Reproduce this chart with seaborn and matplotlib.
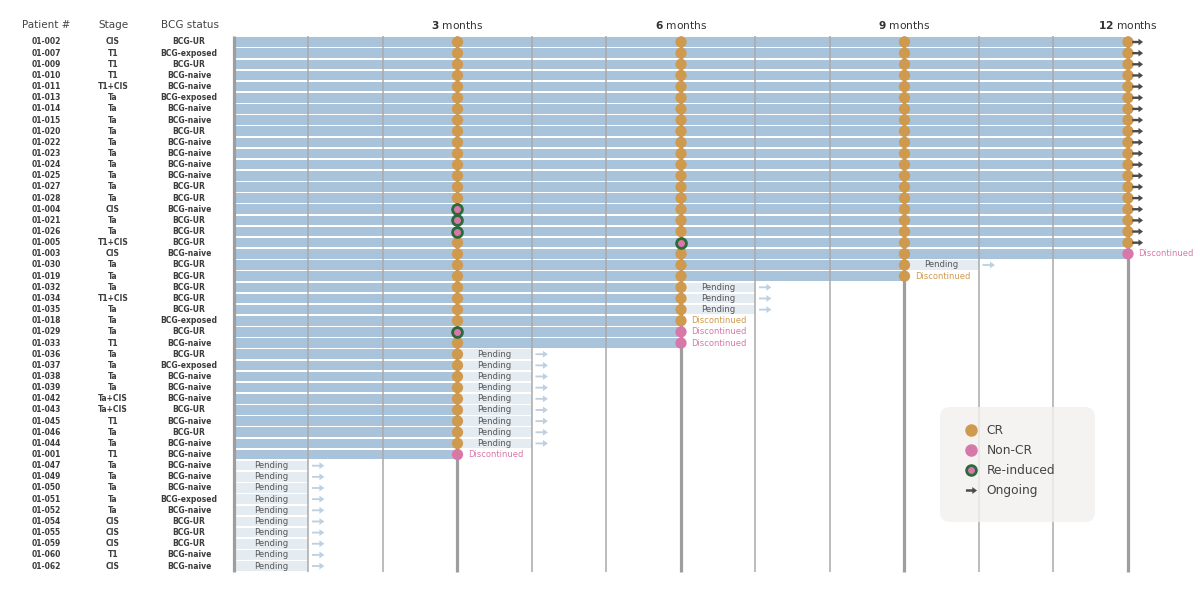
import numpy as np
import pandas as pd
import matplotlib
matplotlib.use("Agg")
import matplotlib.pyplot as plt
from matplotlib.lines import Line2D
from matplotlib.patches import FancyBboxPatch
from matplotlib.path import Path
import seaborn as sns

sns.set_theme(style="white")
plt.rcParams["font.family"] = ["DejaVu Sans"]

# ---- data -------------------------------------------------------------
patients = ["01-002", "01-007", "01-009", "01-010", "01-011", "01-013", "01-014", "01-015",
            "01-020", "01-022", "01-023", "01-024", "01-025", "01-027", "01-028", "01-004",
            "01-021", "01-026", "01-005", "01-003", "01-030", "01-019", "01-032", "01-034",
            "01-035", "01-018", "01-029", "01-033", "01-036", "01-037", "01-038", "01-039",
            "01-042", "01-043", "01-045", "01-046", "01-044", "01-001", "01-047", "01-049",
            "01-050", "01-051", "01-052", "01-054", "01-055", "01-059", "01-060", "01-062"]
stages = ["CIS", "T1", "T1", "T1", "T1+CIS", "Ta", "Ta", "Ta",
          "Ta", "Ta", "Ta", "Ta", "Ta", "Ta", "Ta", "CIS",
          "Ta", "Ta", "T1+CIS", "CIS", "Ta", "Ta", "Ta", "T1+CIS",
          "Ta", "Ta", "Ta", "T1", "Ta", "Ta", "Ta", "Ta",
          "Ta+CIS", "Ta+CIS", "T1", "Ta", "Ta", "T1", "Ta", "Ta",
          "Ta", "Ta", "Ta", "CIS", "CIS", "CIS", "T1", "CIS"]
bcg_status = ["BCG-UR", "BCG-exposed", "BCG-UR", "BCG-naive", "BCG-naive", "BCG-exposed", "BCG-naive", "BCG-naive",
              "BCG-UR", "BCG-naive", "BCG-naive", "BCG-naive", "BCG-naive", "BCG-UR", "BCG-UR", "BCG-naive",
              "BCG-UR", "BCG-UR", "BCG-UR", "BCG-naive", "BCG-UR", "BCG-UR", "BCG-UR", "BCG-UR",
              "BCG-UR", "BCG-exposed", "BCG-UR", "BCG-naive", "BCG-UR", "BCG-exposed", "BCG-naive", "BCG-naive",
              "BCG-naive", "BCG-UR", "BCG-naive", "BCG-UR", "BCG-naive", "BCG-naive", "BCG-naive", "BCG-naive",
              "BCG-naive", "BCG-exposed", "BCG-naive", "BCG-UR", "BCG-UR", "BCG-UR", "BCG-naive", "BCG-naive"]

# response per assessment, one character per patient:
# C = CR, N = Non-CR, R = re-induced, - = not assessed
resp_3m = ("CCCCCCCCCCCCCCC"   # 01-002 .. 01-028
           "RRR"               # 01-004, 01-021, 01-026
           "CCCCCCCC"          # 01-005 .. 01-018
           "R"                 # 01-029
           "C"                 # 01-033
           "CCCCCCCCC"         # 01-036 .. 01-044
           "N"                 # 01-001
           "----------")       # 01-047 .. 01-062
resp_6m = ("CCCCCCCCCCCCCCCCCC"  # 01-002 .. 01-026
           "R"                   # 01-005
           "CCCCCCC"             # 01-003 .. 01-018
           "NN"                  # 01-029, 01-033
           "--------------------")
resp_9m = ("CCCCCCCCCCCCCCCCCCCCCC"  # 01-002 .. 01-019
           "--------------------------")
resp_12m = ("CCCCCCCCCCCCCCCCCCC"  # 01-002 .. 01-005
            "N"                    # 01-003
            "----------------------------")
# what follows the last assessment: O = ongoing, P = pending, D = discontinued
follow_up = ("OOOOOOOOOOOOOOOOOOO"
             "D" "P" "D" "PPP" "DDD"
             "PPPPPPPPP" "D"
             "PPPPPPPPPP")

assess_months = [3, 6, 9, 12]
month_labels = ["3", "6", "9", "12"]

# ---- style ------------------------------------------------------------
BAR_BLUE = "#a9c3da"
PEND_BG = "#e5ecf1"
PEND_ARROW = "#bdd1e3"
CR_COL = "#d09a4e"
NCR_COL = "#d878a9"
RI_RING = "#2b6a3b"
ARROW_COL = "#4a4a4a"
TXT = "#3c3c3c"

ARROW = Path([(-1, -0.22), (0.15, -0.22), (0.15, -0.62), (1, 0), (0.15, 0.62),
              (0.15, 0.22), (-1, 0.22), (-1, -0.22)], closed=True)
THIN_ARROW = Path([(-1, -0.15), (0.2, -0.15), (0.2, -0.55), (1, 0), (0.2, 0.55),
                   (0.2, 0.15), (-1, 0.15), (-1, -0.15)], closed=True)

n = len(patients)
for s in (stages, bcg_status, resp_3m, resp_6m, resp_9m, resp_12m, follow_up):
    assert len(s) == n
rows = np.arange(n)

events = []
for month, resp in zip(assess_months, [resp_3m, resp_6m, resp_9m, resp_12m]):
    for r, code in enumerate(resp):
        if code != "-":
            events.append({"row": r, "month": month, "code": code})
events = pd.DataFrame(events)
last = events.groupby("row")["month"].max().reindex(rows, fill_value=0)
last_code = events.sort_values("month").groupby("row")["code"].last()

df = pd.DataFrame({"row": rows, "end": last.values, "follow": list(follow_up)})

# ---- figure -----------------------------------------------------------
fig = plt.figure(figsize=(12, 5.94), dpi=100)
ax = fig.add_axes([0, 0, 1, 1])

sns.barplot(data=df, x="end", y="row", orient="y", native_scale=True, color=BAR_BLUE,
            saturation=1, width=0.86, errorbar=None, linewidth=0, ax=ax, zorder=1)

# pending boxes
pend = df[df["follow"] == "P"]
ax.barh(pend["row"], 1, left=pend["end"], height=0.86, color=PEND_BG, zorder=1.5, linewidth=0)
for _, p in pend.iterrows():
    ax.text(p["end"] + 0.5, p["row"], "Pending", ha="center", va="center",
            fontsize=6.1, color="#585858", zorder=6)
sns.scatterplot(x=pend["end"] + 1.13, y=pend["row"], marker=THIN_ARROW, s=80,
                color=PEND_ARROW, edgecolor="none", linewidth=0, ax=ax, legend=False, zorder=3)

# month grid
grid_top, grid_bottom = -0.55, 47.5
minor = [m for m in range(13) if m % 3]
major = [m for m in range(13) if m % 3 == 0]
ax.vlines(minor, grid_top, grid_bottom, color="#a9a9a9", lw=1.1, zorder=2)
ax.vlines(major, grid_top, grid_bottom, color="#9e9e9e", lw=2.3, zorder=2)

# assessment markers
plain = events[events["code"] != "R"]
sns.scatterplot(data=plain, x="month", y="row", hue="code",
                palette={"C": CR_COL, "N": NCR_COL}, s=66, edgecolor="none", linewidth=0,
                ax=ax, legend=False, zorder=4)
reind = events[events["code"] == "R"]
sns.scatterplot(data=reind, x="month", y="row", s=50, color=NCR_COL, edgecolor=RI_RING,
                linewidth=2.0, ax=ax, legend=False, zorder=4)

# ongoing arrows
ong = df[df["follow"] == "O"]
sns.scatterplot(x=ong["end"] + 0.13, y=ong["row"], marker=ARROW, s=60, color=ARROW_COL,
                edgecolor="none", linewidth=0, ax=ax, legend=False, zorder=4)

# discontinued labels
disc = df[df["follow"] == "D"]
for _, d in disc.iterrows():
    col = NCR_COL if last_code[d["row"]] == "N" else CR_COL
    ax.text(d["end"] + 0.14, d["row"], "Discontinued", ha="left", va="center",
            fontsize=6, color=col, zorder=6)

# table on the left
col_x = {"pid": -2.523, "stage": -1.624, "bcg": -0.604}
for r in rows:
    ax.text(col_x["pid"], r, patients[r], ha="center", va="center", fontsize=5.5,
            fontweight="bold", color=TXT)
    ax.text(col_x["stage"], r, stages[r], ha="center", va="center", fontsize=5.5,
            fontweight="bold", color=TXT)
    ax.text(col_x["bcg"], r, bcg_status[r], ha="center", va="center", fontsize=5.5,
            fontweight="bold", color=TXT)

head_y = -1.52
ax.text(col_x["pid"], head_y, "Patient #", ha="center", va="center", fontsize=7.5, color="#444444")
ax.text(col_x["stage"], head_y, "Stage", ha="center", va="center", fontsize=7.5, color="#444444")
ax.text(col_x["bcg"] + 0.01, head_y, "BCG status", ha="center", va="center", fontsize=7.5, color="#444444")
for m, lab in zip(assess_months, month_labels):
    ax.text(m, head_y, rf"$\mathbf{{{lab}}}$ months", ha="center", va="center",
            fontsize=7.7, color="#333333")

# legend
box = FancyBboxPatch((9.40, 0.72), 1.55, 1.15, boxstyle="round,pad=0,rounding_size=0.1",
                     transform=fig.dpi_scale_trans, facecolor="#f2f1ee", edgecolor="none",
                     alpha=0.82, zorder=5)
ax.add_patch(box)
handles = [
    Line2D([], [], ls="none", marker="o", ms=8, mfc=CR_COL, mec=CR_COL),
    Line2D([], [], ls="none", marker="o", ms=8, mfc=NCR_COL, mec=NCR_COL),
    Line2D([], [], ls="none", marker="o", ms=7, mfc=NCR_COL, mec=RI_RING, mew=2.0),
    Line2D([], [], ls="none", marker=ARROW, ms=8, mfc=ARROW_COL, mec="none"),
]
leg = ax.legend(handles, ["CR", "Non-CR", "Re-induced", "Ongoing"], loc="upper left",
                bbox_to_anchor=(965 / 1200, 1 - 424 / 594), bbox_transform=fig.transFigure,
                frameon=False, borderpad=0, borderaxespad=0, handlelength=1.0,
                handletextpad=0.74, labelspacing=0.58, fontsize=8.8, labelcolor="#444444")
leg.set_zorder(7)

ax.set_xlim(-234 / 74.5, (1200 - 234) / 74.5)
ax.set_ylim((594 - 42) / 11.15, -42 / 11.15)
ax.set_axis_off()

fig.savefig("out.png", dpi=100)
